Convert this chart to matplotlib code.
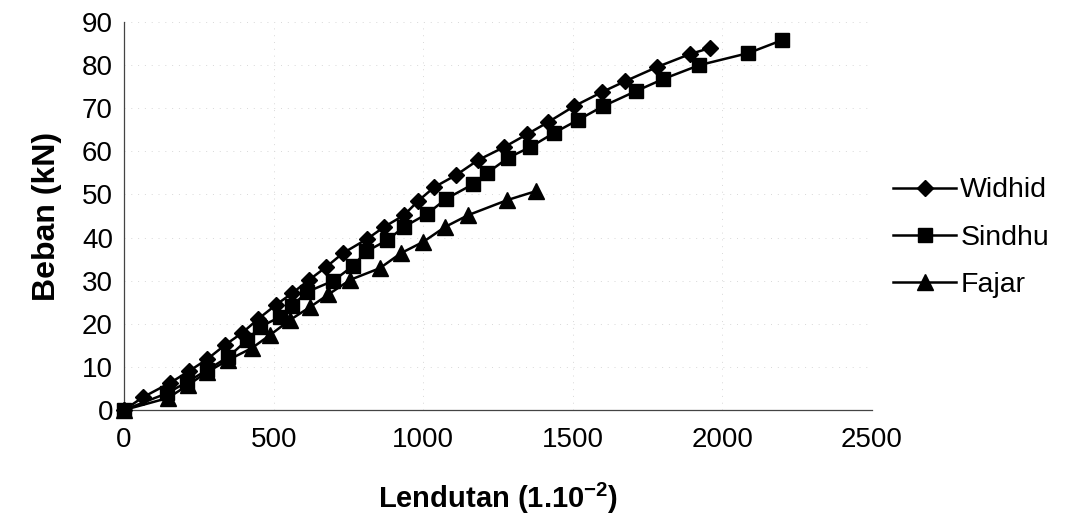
import matplotlib
matplotlib.use("Agg")
import matplotlib.pyplot as plt

plt.rcParams["font.family"] = ["Liberation Sans", "DejaVu Sans"]
plt.rcParams["mathtext.fontset"] = "custom"
plt.rcParams["mathtext.rm"] = "Liberation Sans:bold"
plt.rcParams["mathtext.bf"] = "Liberation Sans:bold"
plt.rcParams["mathtext.default"] = "bf"

# Deflection (1.10^-2 mm) vs load (kN) for three beams
widhid_x = [0, 64, 154, 217, 278, 338, 395, 448, 508, 562, 619, 676, 732, 813,
            870, 936, 983, 1037, 1110, 1184, 1271, 1348, 1418, 1505, 1599, 1676,
            1783, 1893, 1960]
widhid_y = [0, 3.0, 6.3, 9.0, 11.8, 15.1, 17.9, 21.1, 24.4, 27.1, 30.2, 33.2, 36.4,
            39.7, 42.5, 45.2, 48.5, 51.7, 54.5, 58.0, 61.0, 64.0, 66.8, 70.5, 73.8,
            76.3, 79.6, 82.6, 84.0]

sindhu_x = [0, 144, 211, 278, 348, 411, 455, 522, 562, 612, 700, 765, 810, 880,
            936, 1013, 1077, 1167, 1214, 1284, 1358, 1438, 1518, 1602, 1712, 1803,
            1923, 2087, 2200]
sindhu_y = [0, 3.9, 6.5, 9.3, 12.3, 16.2, 19.3, 21.6, 24.2, 27.4, 30.0, 33.4, 36.8,
            39.4, 42.5, 45.5, 49.0, 52.4, 55.0, 58.5, 61.0, 64.3, 67.3, 70.5, 74.0,
            76.8, 80.0, 82.8, 85.8]

fajar_x = [0, 147, 214, 278, 348, 428, 488, 555, 622, 683, 756, 855, 926, 1000,
           1074, 1150, 1281, 1378]
fajar_y = [0, 2.8, 5.8, 8.8, 11.6, 14.4, 17.4, 20.9, 23.9, 26.8, 30.2, 32.9, 36.4,
           39.0, 42.5, 45.2, 48.7, 50.8]

x_ticks = [0, 500, 1000, 1500, 2000, 2500]
y_ticks = [0, 10, 20, 30, 40, 50, 60, 70, 80, 90]

fig = plt.figure(figsize=(10.73, 5.25), dpi=100)
ax = fig.add_axes([0.1156, 0.219, 0.697, 0.739])

series = [
    ("Widhid", widhid_x, widhid_y, "D", 8.5),
    ("Sindhu", sindhu_x, sindhu_y, "s", 9.5),
    ("Fajar", fajar_x, fajar_y, "^", 11.5),
]
for name, xs, ys, mk, ms in series:
    ax.plot(xs, ys, color="black", lw=1.8, marker=mk, ms=ms,
            markerfacecolor="black", markeredgecolor="black",
            label=name, clip_on=False, zorder=3)

ax.set_xlim(0, 2500)
ax.set_ylim(0, 90)
ax.set_xticks(x_ticks)
ax.set_yticks(y_ticks)
ax.tick_params(axis="both", length=0, labelsize=20)
ax.tick_params(axis="x", pad=12)
ax.tick_params(axis="y", pad=8)

ax.grid(True, color="#d8d8d8", linestyle=(0, (1, 6)), linewidth=0.7)
for side in ("top", "right"):
    ax.spines[side].set_visible(False)
for side in ("left", "bottom"):
    ax.spines[side].set_color("#444444")
    ax.spines[side].set_linewidth(0.9)

ax.set_ylabel("Beban (kN)", fontsize=23, fontweight="bold", labelpad=14)
ax.set_xlabel(r"Lendutan (1.10$^{-2}$)", fontsize=21, fontweight="bold", labelpad=20)

fig.legend(loc="center left", bbox_to_anchor=(0.822, 0.547), frameon=False,
           fontsize=20.5, handlelength=2.2, handletextpad=0.15, labelspacing=0.75,
           borderaxespad=0)

fig.savefig("out.png", dpi=100, facecolor="white")
